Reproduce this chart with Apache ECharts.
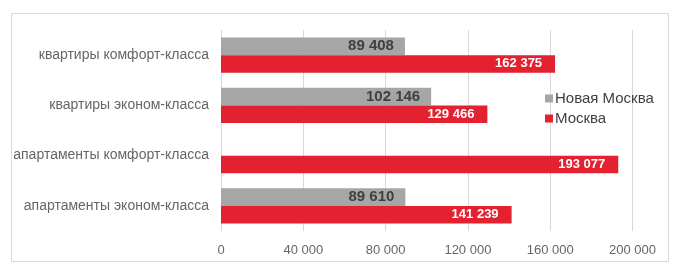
<!DOCTYPE html>
<html><head><meta charset="utf-8">
<script src="https://cdn.jsdelivr.net/npm/echarts@6/dist/echarts.min.js"></script>
<style>html,body{margin:0;padding:0;background:#fff}#c{width:678px;height:272px}</style>
</head><body><div id="c"></div>
<script>
const categories = ['квартиры комфорт-класса','квартиры эконом-класса','апартаменты комфорт-класса','апартаменты эконом-класса'];
const seriesNames = ['Новая Москва','Москва'];
const newMoscow = [89408, 102146, null, 89610];
const moscow = [162375, 129466, 193077, 141239];
const xTicks = [0, 40000, 80000, 120000, 160000, 200000];

const fmt = v => String(v).replace(/\B(?=(\d{3})+(?!\d))/g, ' ');
const chart = echarts.init(document.getElementById('c'));
chart.setOption({
  animation: false,
  textStyle: {fontFamily: 'Liberation Sans, Arial, sans-serif'},
  graphic: [{type:'rect', shape:{x:11.5,y:13.5,width:657,height:248}, style:{fill:'none', stroke:'#d9d9d9', lineWidth:1}, silent:true}],
  grid: {left: 221, right: 678-632.5, top: 30, bottom: 272-231, containLabel: false},
  legend: {
    orient: 'vertical', left: 540, top: 86, itemWidth: 8, itemHeight: 8, itemGap: 5,
    icon: 'rect', data: seriesNames,
    textStyle: {fontSize: 15, color: '#404040', padding: [0,0,0,-3]}
  },
  xAxis: {
    type: 'value', min: xTicks[0], max: xTicks[xTicks.length-1], interval: 40000,
    axisLine: {show:false}, axisTick: {show:false},
    splitLine: {lineStyle: {color: '#d9d9d9'}},
    axisLabel: {formatter: fmt, color: '#666666', fontSize: 13, margin: 13}
  },
  yAxis: {
    type: 'category', data: categories, inverse: true,
    axisLine: {show:false}, axisTick: {show:false},
    axisLabel: {color: '#666666', fontSize: 14, margin: 12}
  },
  series: [
    {name: seriesNames[0], type: 'bar', data: newMoscow, barGap: '0%', barCategoryGap: '30%',
     itemStyle: {color: '#a6a6a6'},
     label: {show: true, position: 'insideRight', distance: 11, formatter: p => fmt(p.value),
             color: '#404040', fontWeight: 'bold', fontSize: 15}},
    {name: seriesNames[1], type: 'bar', data: moscow, barGap: '0%', barCategoryGap: '30%',
     itemStyle: {color: '#e32130'},
     label: {show: true, position: 'insideRight', distance: 13, formatter: p => fmt(p.value),
             color: '#ffffff', fontWeight: 'bold', fontSize: 13}}
  ]
});
</script></body></html>
